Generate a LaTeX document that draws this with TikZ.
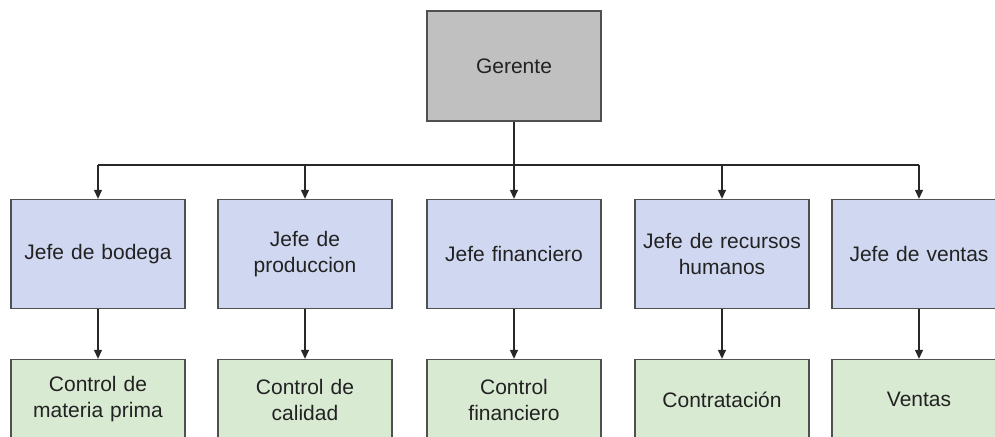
\documentclass[tikz,border=0pt]{standalone}
\usepackage{fontspec}
\setmainfont{Liberation Sans}
\usetikzlibrary{arrows.meta}
\definecolor{gerfill}{RGB}{192,192,192}
\definecolor{bluefill}{RGB}{208,216,241}
\definecolor{greenfill}{RGB}{217,234,211}
\definecolor{boxline}{RGB}{80,80,80}
\definecolor{conline}{RGB}{40,40,40}
\definecolor{txt}{RGB}{34,34,34}
\tikzset{
  orgbox/.style={draw=boxline, line width=1.3bp, minimum width=174bp, minimum height=109bp,
    align=center, text width=168bp, text=txt, inner sep=0pt,
    font=\fontsize{21bp}{26bp}\selectfont},
  gerbox/.style={orgbox, fill=gerfill, minimum height=110bp},
  jefebox/.style={orgbox, fill=bluefill},
  ctrlbox/.style={orgbox, fill=greenfill, minimum height=80bp},
  conn/.style={draw=conline, line width=1.2bp},
  arr/.style={conn, -{Triangle[width=8bp,length=9bp]}}
}
\begin{document}
\begin{tikzpicture}[x=1bp,y=-1bp]
\useasboundingbox (0,0) rectangle (995,437);
\clip (0,0) rectangle (995,437);
\node[gerbox] (g) at (514,66) {Gerente};
\node[jefebox] (l1) at (98,254) {Jefe de bodega};
\node[jefebox] (l2) at (305,254) {Jefe de\\produccion};
\node[jefebox] (l3) at (514,254) {Jefe financiero};
\node[jefebox] (l4) at (722,254) {Jefe de recursos\\humanos};
\node[jefebox] (l5) at (919,254) {Jefe de ventas};
\node[ctrlbox] (c1) at (98,399.5) {Control de\\materia prima};
\node[ctrlbox] (c2) at (305,399.5) {Control de\\calidad};
\node[ctrlbox] (c3) at (514,399.5) {Control\\financiero};
\node[ctrlbox] (c4) at (722,399.5) {Contratación};
\node[ctrlbox] (c5) at (919,399.5) {Ventas};
\coordinate (bus) at (514,165);
\draw[conn] (l1.north |- bus) -- (l5.north |- bus);
\draw[arr] (g.south) -- (l3.north);
\foreach \n in {1,2,4,5} {
  \draw[arr] (l\n.north |- bus) -- (l\n.north);
}
\foreach \n in {1,2,3,4,5} {
  \draw[arr] (l\n.south) -- (c\n.north);
}
\end{tikzpicture}
\end{document}
